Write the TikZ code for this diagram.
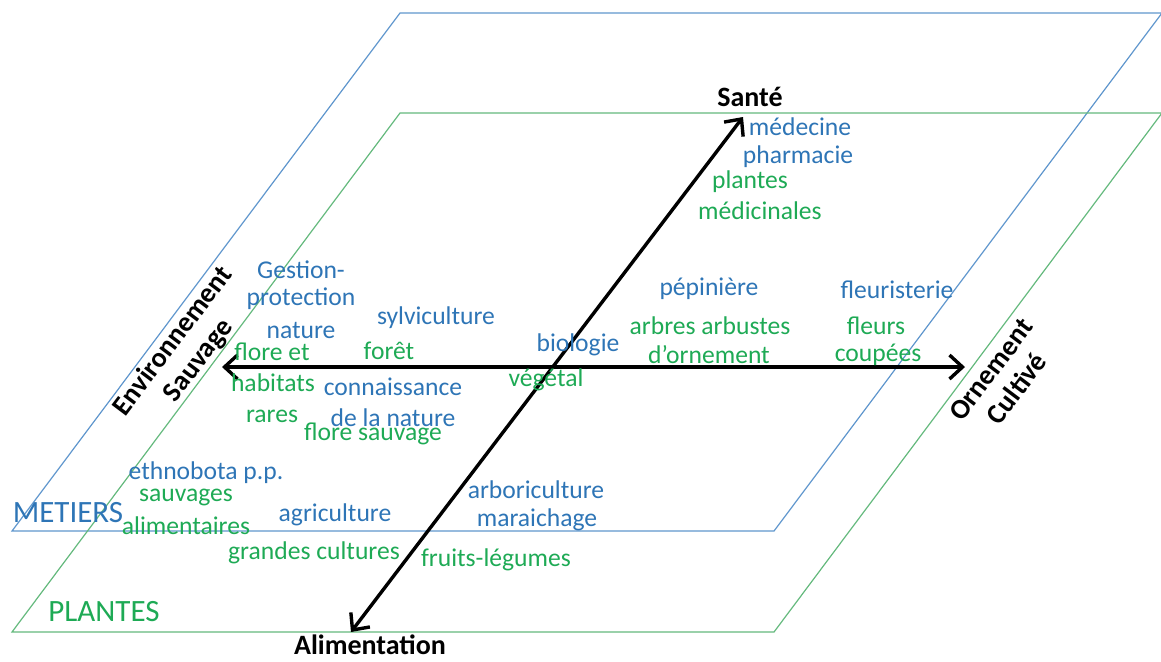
\documentclass[tikz,border=0pt]{standalone}
\usepackage{fontspec}
\setmainfont{Carlito}
\usetikzlibrary{arrows.meta}
\usepackage{xcolor}

\definecolor{metierblue}{RGB}{46,117,182}
\definecolor{planteGreen}{RGB}{30,170,85}
\definecolor{metierline}{RGB}{95,150,205}
\definecolor{planteline}{RGB}{100,185,125}

\tikzset{
    metier/.style={text=metierblue, font=\fontsize{12.8}{15}\selectfont, inner sep=0pt},
    plante/.style={text=planteGreen, font=\fontsize{12.8}{15}\selectfont, inner sep=0pt},
    titre/.style={font=\fontsize{15.5}{18}\selectfont, inner sep=0pt},
    pole/.style={font=\bfseries\fontsize{14}{16}\selectfont, inner sep=0pt},
    axe/.style={line width=1.7pt, {Straight Barb[length=6.5pt,width=12pt]}-{Straight Barb[length=6.5pt,width=12pt]}}
}

\begin{document}
\begin{tikzpicture}[x=0.5pt, y=-0.5pt]
        \useasboundingbox (0,0) rectangle (1161,661);

        % the two planes
        \draw[metierline, line width=0.6pt] (400,13) -- (1162,13) -- (774,531) -- (12,531) -- cycle;
        \draw[planteline, line width=0.6pt] (400,113) -- (1162,113) -- (774,632) -- (12,632) -- cycle;

        \coordinate (sante) at (743,117); % top end
        \coordinate (alim) at (351,632); % bottom end
        \coordinate (sauvage) at (222,367);
        \coordinate (cultive) at (965,367);

        \draw[axe] (alim) -- (sante);
        \draw[axe] (sauvage) -- (cultive);

        % poles
        \node[pole] (Sante) at (750,97) {Santé};
        \node[pole] (Alimentation) at (370,645) {Alimentation};
        \node[pole, rotate=53, align=center] (Env) at (186,351) {Environnement\\Sauvage};
        \node[pole, rotate=53, align=center] (Orn) at (1004,379) {Ornement\\Cultivé};

        \node[titre, text=metierblue] (METIERS) at (68,513) {METIERS};
        \node[titre, text=planteGreen] (PLANTES) at (104,612) {PLANTES};

        % metiers
        \node[metier] (medecine) at (800,127) {médecine};
        \node[metier] (pharmacie) at (798,157) {pharmacie};
        \node[metier] (gestion) at (301,270) {Gestion-};
        \node[metier] (protection) at (301,299) {protection};
        \node[metier] (nature) at (301,330) {nature};
        \node[metier] (sylvi) at (436,318) {sylviculture};
        \node[metier] (biologie) at (578,345) {biologie};
        \node[metier] (pepiniere) at (709,289) {pépinière};
        \node[metier] (fleuristerie) at (897,290) {fleuristerie};
        \node[metier] (connaissance) at (393,387) {connaissance};
        \node[metier] (delanature) at (393,418) {de la nature};
        \node[metier] (ethnobota) at (206,473) {ethnobota p.p.};
        \node[metier] (agriculture) at (335,515) {agriculture};
        \node[metier] (arbori) at (536,490) {arboriculture};
        \node[metier] (maraichage) at (537,520) {maraichage};

        % plantes
        \node[plante] (plantes) at (750,182) {plantes};
        \node[plante] (medicinales) at (760,211) {médicinales};
        \node[plante] (floreet) at (272,352) {flore et};
        \node[plante] (foret) at (389,351) {forêt};
        \node[plante] (vegetal) at (546,380) {végétal};
        \node[plante] (arbres) at (710,326) {arbres arbustes};
        \node[plante] (ornement) at (709,355) {d’ornement};
        \node[plante] (fleurs) at (876,326) {fleurs};
        \node[plante] (coupees) at (878,355) {coupées};
        \node[plante] (habitats) at (273,383) {habitats};
        \node[plante] (rares) at (272,416) {rares};
        \node[plante] (floresauvage) at (373,434) {flore sauvage};
        \node[plante] (sauvages) at (186,497) {sauvages};
        \node[plante] (alimentaires) at (186,526) {alimentaires};
        \node[plante] (grandes) at (314,553) {grandes cultures};
        \node[plante] (fruits) at (496,560) {fruits-légumes};
    \end{tikzpicture}
\end{document}
